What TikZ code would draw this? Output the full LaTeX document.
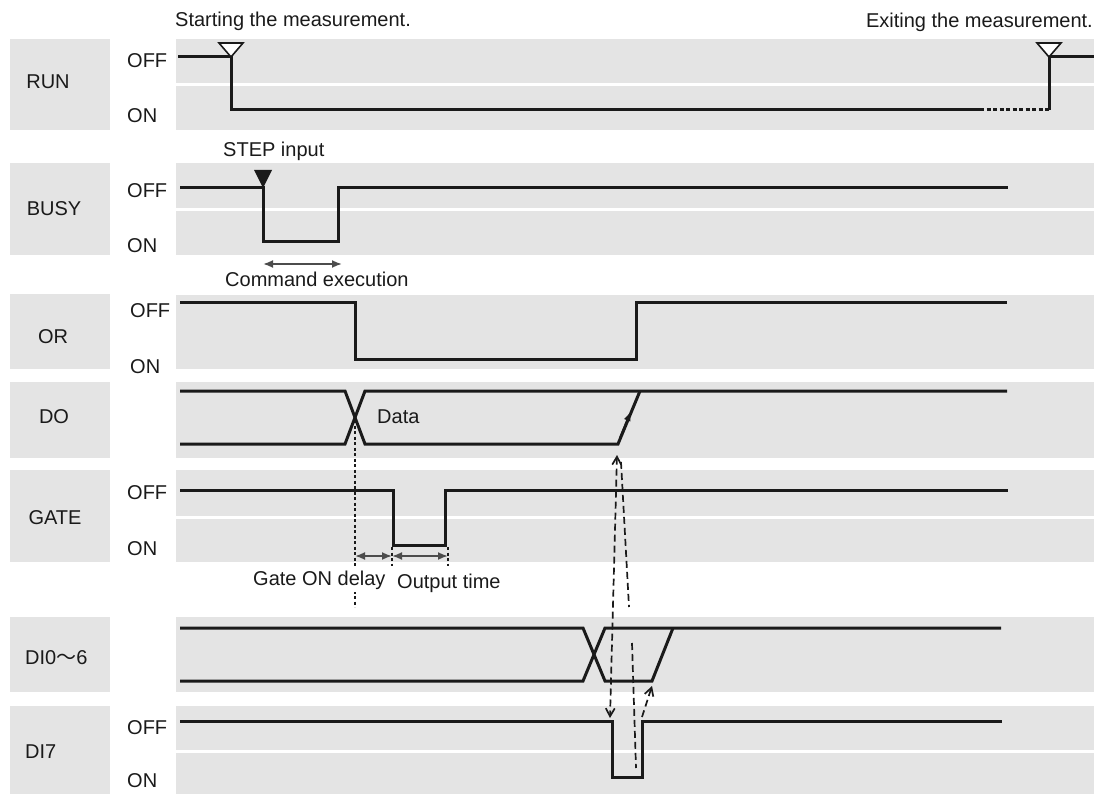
\documentclass[tikz,border=0pt]{standalone}
\usepackage{fontspec}
\setmainfont{Liberation Sans}
\newfontfamily\cjkfont{Noto Sans CJK JP}
\usetikzlibrary{arrows.meta}
\definecolor{panelgray}{HTML}{E4E4E4}
\definecolor{inkc}{HTML}{1A1A1A}
\tikzset{mybarb/.tip={Straight Barb[length=8pt,width=9pt]}}
\begin{document}
\begin{tikzpicture}[x=1pt,y=-1pt,
 panel/.style={fill=panelgray,draw=none},
 sig/.style={line width=3pt,draw=inkc,line join=miter},
 txt/.style={inner sep=0pt,font=\fontsize{20}{23}\selectfont,text=inkc},
 dimarrow/.style={line width=1.8pt,draw=black!70,{Latex[length=10pt,width=8pt]}-{Latex[length=10pt,width=8pt]}},
 dotline/.style={line width=1.5pt,draw=inkc,dash pattern=on 3pt off 2.5pt},
 dashline/.style={line width=1.7pt,draw=inkc,dash pattern=on 7pt off 4pt}
]
\useasboundingbox (0,0) rectangle (1097,794);

% label boxes
\foreach \a/\b in {39/130,163/255,294/369,382/458,470/562,617/692,706/794}
  \fill[panelgray] (10,\a) rectangle (110,\b);
% signal panels
\foreach \a/\b in {39/83,86/130,163/208,211/255,295/369,382/458,470/516,519/562,617/692,706/750,753/794}
  \fill[panelgray] (176,\a) rectangle (1094,\b);

% signal names
\node[txt,anchor=base] (nrun) at (48,89) {RUN};
\node[txt,anchor=base] (nbusy) at (54,216) {BUSY};
\node[txt,anchor=base] (nor) at (53,343) {OR};
\node[txt,anchor=base] (ndo) at (54,423) {DO};
\node[txt,anchor=base] (ngate) at (55,524) {GATE};
\node[txt,anchor=base west] (ndi) at (25,664) {DI0{\cjkfont ～}6};
\node[txt,anchor=base west] (ndi7) at (25,758) {DI7};

% OFF / ON levels
\node[txt,anchor=base west] (roff) at (127,68) {OFF};
\node[txt,anchor=base west] (ron) at (127,123) {ON};
\node[txt,anchor=base west] (boff) at (127,198) {OFF};
\node[txt,anchor=base west] (bon) at (127,253) {ON};
\node[txt,anchor=base west] (ooff) at (130,317) {OFF};
\node[txt,anchor=base west] (oon) at (130,373) {ON};
\node[txt,anchor=base west] (goff) at (127,499) {OFF};
\node[txt,anchor=base west] (gon) at (127,555) {ON};
\node[txt,anchor=base west] (doff) at (127,734) {OFF};
\node[txt,anchor=base west] (don) at (127,787) {ON};

% annotations
\node[txt,anchor=base west] (start) at (175,27) {Starting the measurement.};
\node[txt,anchor=base east] (exit) at (1093,28) {Exiting the measurement.};
\node[txt,anchor=base west] (step) at (223,157) {STEP input};
\node[txt,anchor=base west] (cmd) at (225,287) {Command execution};
\node[txt,anchor=base west] (data) at (377,423) {Data};

% RUN
\draw[sig] (178,57) -- (231,57) -- (231,110) -- (980,110);
\draw[sig,dash pattern=on 4pt off 2.5pt] (980,110) -- (1049,110);
\draw[sig] (1049,110) -- (1049,57) -- (1094,57);
\draw[line width=1.6pt,draw=inkc,fill=white,line join=miter] (219,43) -- (243,43) -- (231,57) -- cycle;
\draw[line width=1.6pt,draw=inkc,fill=white,line join=miter] (1037,43) -- (1061,43) -- (1049,57) -- cycle;

% BUSY
\draw[sig] (180,188) -- (263,188) -- (263,242) -- (338,242) -- (338,188) -- (1008,188);
\fill[inkc] (254,170) -- (272,170) -- (263,188) -- cycle;
\coordinate (c1) at (263,264);
\coordinate (c2) at (342,264);
\draw[dimarrow] (c1) -- (c2);

% OR
\draw[sig] (180,302) -- (355,302) -- (355,359) -- (636,359) -- (636,302) -- (1007,302);

% DO
\draw[sig] (180,391) -- (345,391) -- (365,444) -- (618,444) -- (640,391);
\draw[sig] (180,444) -- (345,444) -- (365,391) -- (1007,391);
\draw[line width=2pt,draw=inkc,-{Latex[length=10pt,width=7pt]}] (620,438) -- (631,411);

% GATE
\draw[sig] (180,490) -- (393,490) -- (393,545) -- (445,545) -- (445,490) -- (1008,490);
\coordinate (g0) at (355,556);
\coordinate (g1) at (392,556);
\coordinate (g2) at (448,556);
\draw[dotline] (355,420) -- (355,607);
\draw[dotline] (392,547) -- (392,566);
\draw[dotline] (448,547) -- (448,566);
\draw[dimarrow] (g0) -- (g1);
\draw[dimarrow] (g1) -- (g2);
\node[txt,anchor=base west,fill=white,inner ysep=3pt] (gdel) at (253,585) {Gate ON delay};
\node[txt,anchor=base west] (otime) at (397,588) {Output time};

% DI0~6
\draw[sig] (180,628) -- (583,628) -- (605,681) -- (652,681) -- (673,628);
\draw[sig] (180,681) -- (583,681) -- (605,628) -- (1001,628);

% DI7
\draw[sig] (180,721) -- (612,721) -- (612,777) -- (642,777) -- (642,721) -- (1002,721);

% dashed timing references
\coordinate (t1) at (617,455);
\coordinate (b1) at (610,718);
\coordinate (t2) at (621,462);
\coordinate (b2) at (629,607);
\coordinate (t3) at (632,643);
\coordinate (b3) at (636,768);
\coordinate (t4) at (652,686);
\coordinate (b4) at (642,717);
\draw[dashline,{mybarb}-{mybarb}] (t1) -- (b1);
\draw[dashline] (t2) -- (b2);
\draw[dashline] (t3) -- (b3);
\draw[dashline,-{mybarb}] (b4) -- (t4);
\end{tikzpicture}
\end{document}
